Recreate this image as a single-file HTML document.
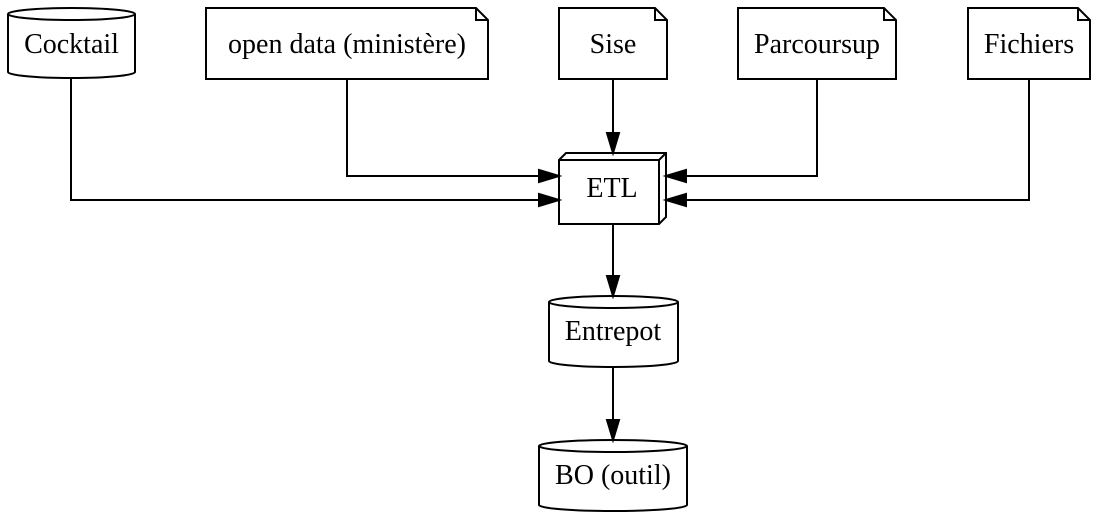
<!DOCTYPE html>
<html><head><style>body{margin:0;background:#fff}svg{display:block}text{font-family:"Liberation Serif",serif;font-size:28px}</style></head><body>
<svg width="1098" height="520" viewBox="0 0 1098 520" xmlns="http://www.w3.org/2000/svg" text-anchor="middle">
<g fill="#fff" stroke="#000" stroke-width="2">
<path d="M8,14 A63.5,6 0 0 1 135,14 L135,72 A63.5,6 0 0 1 8,72 Z"/>
<path d="M8,14 A63.5,6 0 0 0 135,14" fill="none"/>
<path d="M206,8 L476,8 L488,20 L488,79 L206,79 Z"/><path d="M476,8 L476,20 L488,20" fill="none"/>
<path d="M559,8 L655,8 L667,20 L667,79 L559,79 Z"/><path d="M655,8 L655,20 L667,20" fill="none"/>
<path d="M738,8 L884,8 L896,20 L896,79 L738,79 Z"/><path d="M884,8 L884,20 L896,20" fill="none"/>
<path d="M968,8 L1078,8 L1090,20 L1090,79 L968,79 Z"/><path d="M1078,8 L1078,20 L1090,20" fill="none"/>
<path d="M559,160 L566,153 L666,153 L666,217 L659,224 L559,224 Z"/>
<path d="M559,160 L659,160 L659,224 M659,160 L666,153" fill="none"/>
<path d="M549,302 A64.5,6 0 0 1 678,302 L678,361 A64.5,6 0 0 1 549,361 Z"/>
<path d="M549,302 A64.5,6 0 0 0 678,302" fill="none"/>
<path d="M539,446 A74,6 0 0 1 687,446 L687,505 A74,6 0 0 1 539,505 Z"/>
<path d="M539,446 A74,6 0 0 0 687,446" fill="none"/>
</g>
<g fill="none" stroke="#000" stroke-width="2">
<path d="M71,79 V200 H540"/>
<path d="M347,79 V176 H540"/>
<path d="M613,79 V134"/>
<path d="M817,79 V176 H686"/>
<path d="M1029,79 V200 H686"/>
<path d="M613,224 V277"/>
<path d="M613,367 V421"/>
</g>
<g fill="#000" stroke="#000" stroke-width="2">
<path d="M559,200 L539,194 L539,206 Z"/>
<path d="M559,176 L539,170 L539,182 Z"/>
<path d="M613,153 L607,133 L619,133 Z"/>
<path d="M666,176 L686,170 L686,182 Z"/>
<path d="M666,200 L686,194 L686,206 Z"/>
<path d="M613,296 L607,276 L619,276 Z"/>
<path d="M613,440 L607,420 L619,420 Z"/>
</g>
<g fill="#000">
<text x="71.5" y="53">Cocktail</text>
<text x="347" y="53">open data (ministère)</text>
<text x="613" y="53">Sise</text>
<text x="817" y="53">Parcoursup</text>
<text x="1029" y="53">Fichiers</text>
<text x="612" y="197">ETL</text>
<text x="613" y="340">Entrepot</text>
<text x="613" y="484">BO (outil)</text>
</g>
</svg>
</body></html>
